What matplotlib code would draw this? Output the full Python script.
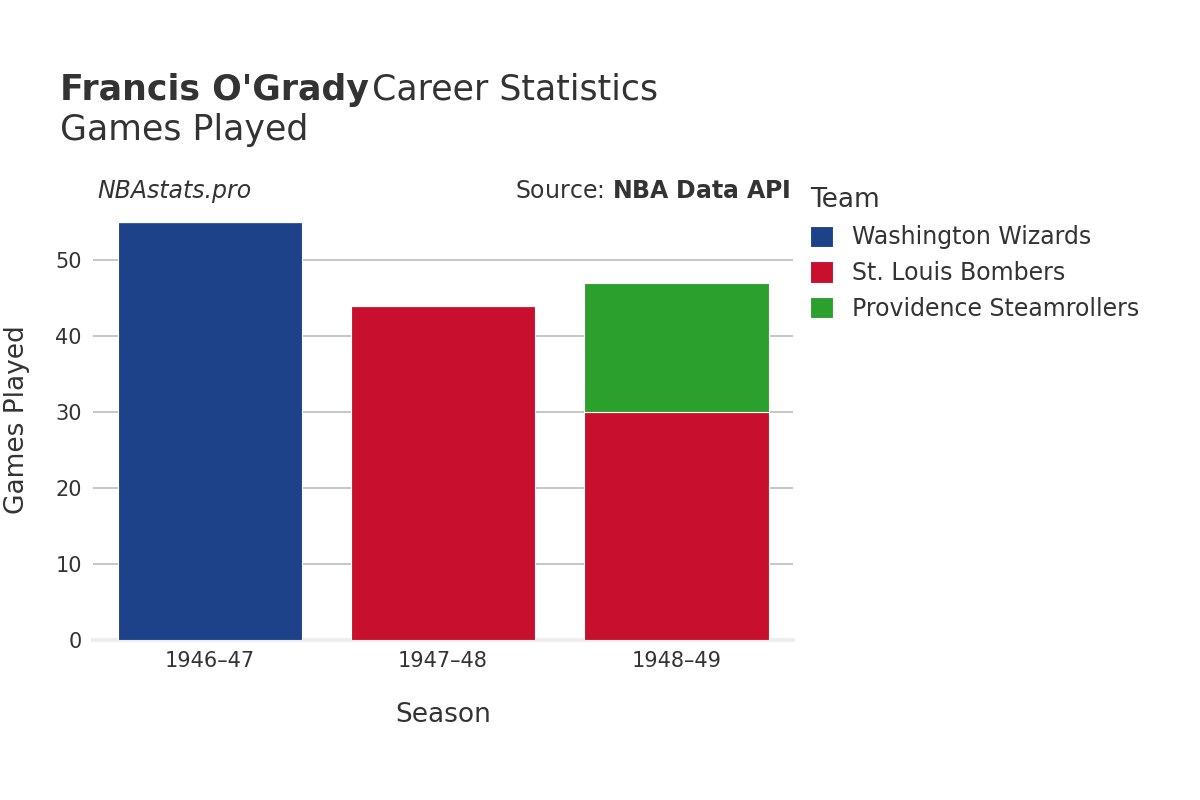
import matplotlib
matplotlib.use("Agg")
import matplotlib.pyplot as plt
import numpy as np

seasons = ["1946–47", "1947–48", "1948–49"]
teams = ["Washington Wizards", "St. Louis Bombers", "Providence Steamrollers"]
colors = ["#1d428a", "#c8102e", "#2ca02c"]
games = {
    "Washington Wizards": [55, 0, 0],
    "St. Louis Bombers": [0, 44, 30],
    "Providence Steamrollers": [0, 0, 17],
}
yticks = [0, 10, 20, 30, 40, 50]

fig = plt.figure(figsize=(12, 8), dpi=100)
ax = fig.add_axes([0.0775, 0.2, 0.5835, 0.55])
x = np.arange(len(seasons))
bottom = np.zeros(len(seasons))
for t, c in zip(teams, colors):
    v = np.array(games[t], dtype=float)
    ax.bar(x, v, bottom=bottom, width=0.79, color=c, edgecolor="white", linewidth=0.8, label=t, zorder=3)
    bottom += v

ax.set_xlim(-0.5, 2.5)
ax.set_ylim(0, 57.9)
ax.set_yticks(yticks)
ax.set_xticks(x, seasons)
ax.grid(axis="y", color="#bbbbbb", linewidth=1.2, zorder=0)
for s in ["top", "right", "left"]:
    ax.spines[s].set_visible(False)
ax.spines["bottom"].set_color("#eeeeee")
ax.spines["bottom"].set_linewidth(3)
ax.tick_params(axis="both", length=0, labelsize=15, colors="#333333", pad=8)
ax.set_xlabel("Season", fontsize=19, color="#333333", labelpad=22)
ax.set_ylabel("Games Played", fontsize=19, color="#333333", labelpad=18)

fig.text(0.05, 0.875, "Francis O'Grady", fontsize=25, fontweight="bold", color="#333333", va="baseline")
fig.text(0.31, 0.875, "Career Statistics", fontsize=25, color="#333333", va="baseline")
fig.text(0.05, 0.825, "Games Played", fontsize=25, color="#333333", va="baseline")
fig.text(0.081, 0.752, "NBAstats.pro", fontsize=17, style="italic", color="#333333", va="baseline")
fig.text(0.659, 0.752, "Source: $\\bf{NBA\\ Data\\ API}$", fontsize=17, color="#333333", va="baseline", ha="right")

leg = ax.legend(title="Team", loc="upper left", bbox_to_anchor=(1.01, 1.05), frameon=False,
                fontsize=17, title_fontsize=19, handlelength=1, handleheight=1, labelspacing=0.5,
                borderaxespad=0)
leg._legend_box.align = "left"
for txt in leg.get_texts():
    txt.set_color("#333333")
leg.get_title().set_color("#333333")

fig.savefig("out.png", dpi=100)
